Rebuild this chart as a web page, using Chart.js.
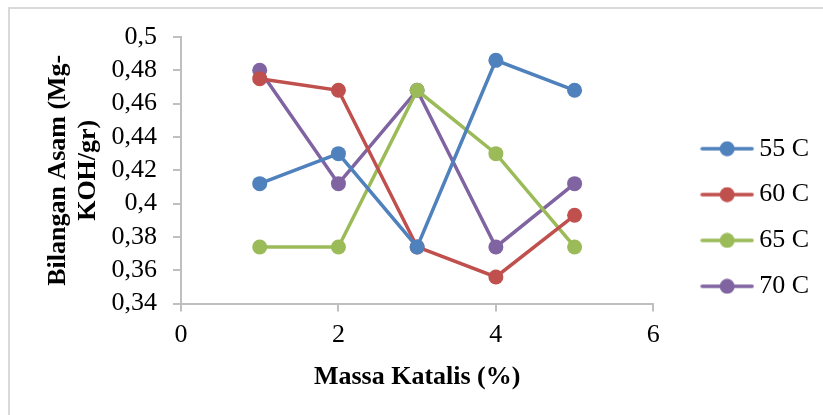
<!DOCTYPE html>
<html>
<head>
<meta charset="utf-8">
<script src="https://cdn.jsdelivr.net/npm/chart.js@4.4.0/dist/chart.umd.min.js"></script>
<style>
  html, body { margin: 0; padding: 0; background: #fff; overflow: hidden; }
  .frame { position: absolute; left: 8px; top: 7px; width: 900px; height: 500px; border: 2px solid #d9d9d9; }
  .wrap { position: absolute; left: 0; top: 0; width: 823px; height: 415px; }
</style>
</head>
<body>
<div class="frame"></div>
<div class="wrap"><canvas id="chart" width="823" height="415"></canvas></div>
<script>
// data
let massa = [1, 2, 3, 4, 5];
let seriesNames = ["55 C", "60 C", "65 C", "70 C"];
let s55 = [0.412, 0.430, 0.374, 0.486, 0.468];
let s60 = [0.475, 0.468, 0.374, 0.356, 0.393];
let s65 = [0.374, 0.374, 0.468, 0.430, 0.374];
let s70 = [0.480, 0.412, 0.468, 0.374, 0.412];
let colors = ["#4F81BD", "#C0504D", "#9BBB59", "#8064A2"];
let xTicks = [0, 2, 4, 6];
let yTicks = [0.34, 0.36, 0.38, 0.4, 0.42, 0.44, 0.46, 0.48, 0.5];

function pts(ys) {
  return massa.map((x, i) => ({ x: x, y: ys[i] }));
}

// little line+dot picture for the legend
function legendIcon(color) {
  let c = document.createElement("canvas");
  c.width = 54; c.height = 16;
  let g = c.getContext("2d");
  g.strokeStyle = color; g.lineWidth = 3.5; g.lineCap = "round";
  g.beginPath(); g.moveTo(2, 8); g.lineTo(52, 8); g.stroke();
  g.fillStyle = color;
  g.beginPath(); g.arc(27, 8, 7.5, 0, Math.PI * 2); g.fill();
  return c;
}

let allSeries = [s55, s60, s65, s70];
let datasets = allSeries.map((s, i) => ({
  label: seriesNames[i],
  data: pts(s),
  borderColor: colors[i],
  backgroundColor: colors[i],
  borderWidth: 3.5,
  pointRadius: 7.5,
  pointHoverRadius: 7.5,
  pointBorderWidth: 0,
  pointStyle: "circle",
  tension: 0
}));

let icons = colors.map(c => legendIcon(c));
const font = "'Liberation Serif', 'Times New Roman', serif";

// push the legend right/down without touching the plot area
const legendShift = {
  id: "legendShift",
  afterLayout(chart) {
    let lg = chart.legend;
    if (!lg) return;
    lg.left += 35;
    lg.right += 35;
    lg.top += 2.5;
    lg.bottom += 2.5;
  }
};

new Chart(document.getElementById("chart"), {
  type: "line",
  data: { datasets: datasets },
  plugins: [legendShift],
  options: {
    responsive: false,
    animation: false,
    devicePixelRatio: 1,
    layout: { padding: { left: 38, right: 39, top: 37, bottom: 22 } },
    plugins: {
      tooltip: { enabled: false },
      legend: {
        position: "right",
        align: "center",
        labels: {
          usePointStyle: true,
          pointStyleWidth: 38,
          padding: 19.85,
          color: "#000",
          font: { family: font, size: 26 },
          generateLabels: (chart) => chart.data.datasets.map((d, i) => ({
            text: d.label,
            pointStyle: icons[i],
            fillStyle: colors[i],
            strokeStyle: colors[i],
            lineWidth: 0,
            fontColor: "#000",
            datasetIndex: i
          }))
        }
      }
    },
    scales: {
      x: {
        type: "linear",
        min: 0, max: 6,
        afterBuildTicks: (axis) => { axis.ticks = xTicks.map(v => ({ value: v })); },
        grid: { drawOnChartArea: false, color: "#bfbfbf", tickLength: 8, lineWidth: 2 },
        border: { color: "#bfbfbf", width: 2 },
        ticks: { color: "#000", font: { family: font, size: 26 }, padding: 8, autoSkip: false, maxRotation: 0 },
        title: { display: true, text: "Massa Katalis (%)", color: "#000", font: { family: font, size: 26, weight: "bold" }, padding: { top: 3, bottom: 0 } }
      },
      y: {
        min: 0.34, max: 0.5,
        afterBuildTicks: (axis) => { axis.ticks = yTicks.map(v => ({ value: v })); },
        grid: { drawOnChartArea: false, color: "#bfbfbf", tickLength: 8, lineWidth: 2 },
        border: { color: "#bfbfbf", width: 2 },
        ticks: {
          color: "#000", font: { family: font, size: 26 }, padding: 16, autoSkip: false,
          callback: (v) => (Math.round(v * 100) / 100).toString().replace(".", ",")
        },
        title: { display: true, text: ["Bilangan Asam (Mg-", "KOH/gr)"], color: "#000", font: { family: font, size: 26, weight: "bold", lineHeight: 1.15 }, padding: { top: 5.5, bottom: -7.8 } }
      }
    }
  }
});
</script>
</body>
</html>
